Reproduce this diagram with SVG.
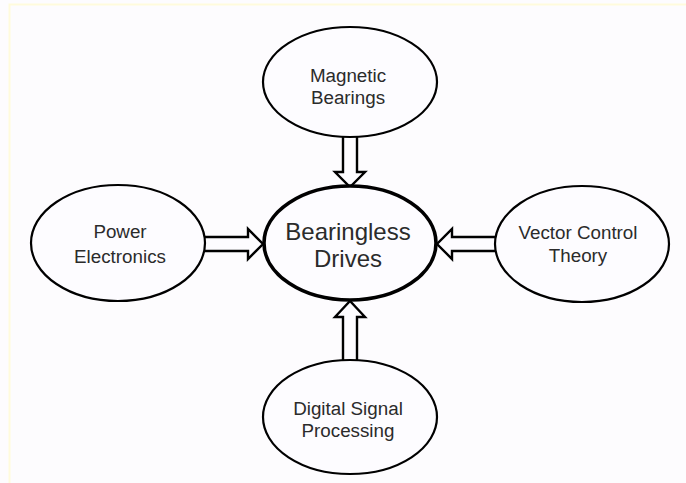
<svg xmlns="http://www.w3.org/2000/svg" width="686" height="483" viewBox="0 0 686 483">
  <style>
    .node { fill: #fdfcff; stroke: #000; stroke-width: 2.2; }
    .main { fill: #fdfcff; stroke: #000; stroke-width: 3.6; }
    .lbl { font-family: "Liberation Sans", Arial, sans-serif; font-size: 18.8px; fill: #2b2b2b; text-anchor: middle; }
    .big { font-size: 24px; }
    .arrow { fill: #fdfcff; stroke: #000; stroke-width: 2.4; stroke-linejoin: miter; }
  </style>
  <rect x="0" y="0" width="686" height="483" fill="#fdfcfe"/>
  <path d="M9.5,483 V4.5 H686" fill="none" stroke="#fffbdc" stroke-width="2"/>

  <g id="connectors">
    <polygon class="arrow" points="200,237 248,237 248,229 263,244 248,259 248,251 200,251"/>
    <polygon class="arrow" points="500,237 452,237 452,229 437,244 452,259 452,251 500,251"/>
    <polygon class="arrow" points="343,134 343,172 335,172 350,187 365,172 357,172 357,134"/>
    <polygon class="arrow" points="343,364 343,317 335,317 350,301 365,317 357,317 357,364"/>
  </g>

  <g id="magnetic-bearings">
    <ellipse class="node" cx="350" cy="82" rx="87" ry="55"/>
    <text class="lbl" x="348" y="82">Magnetic</text>
    <text class="lbl" x="348" y="104">Bearings</text>
  </g>

  <g id="power-electronics">
    <ellipse class="node" cx="118" cy="243" rx="87" ry="58"/>
    <text class="lbl" x="120" y="238">Power</text>
    <text class="lbl" x="120" y="263">Electronics</text>
  </g>

  <g id="vector-control-theory">
    <ellipse class="node" cx="582" cy="244" rx="87" ry="58"/>
    <text class="lbl" x="578" y="239">Vector Control</text>
    <text class="lbl" x="578" y="262">Theory</text>
  </g>

  <g id="digital-signal-processing">
    <ellipse class="node" cx="350" cy="417" rx="87" ry="57"/>
    <text class="lbl" x="348" y="415">Digital Signal</text>
    <text class="lbl" x="348" y="437">Processing</text>
  </g>

  <g id="bearingless-drives">
    <ellipse class="main" cx="350" cy="243" rx="86" ry="57"/>
    <text class="lbl big" x="348" y="240">Bearingless</text>
    <text class="lbl big" x="348" y="267">Drives</text>
  </g>
</svg>
